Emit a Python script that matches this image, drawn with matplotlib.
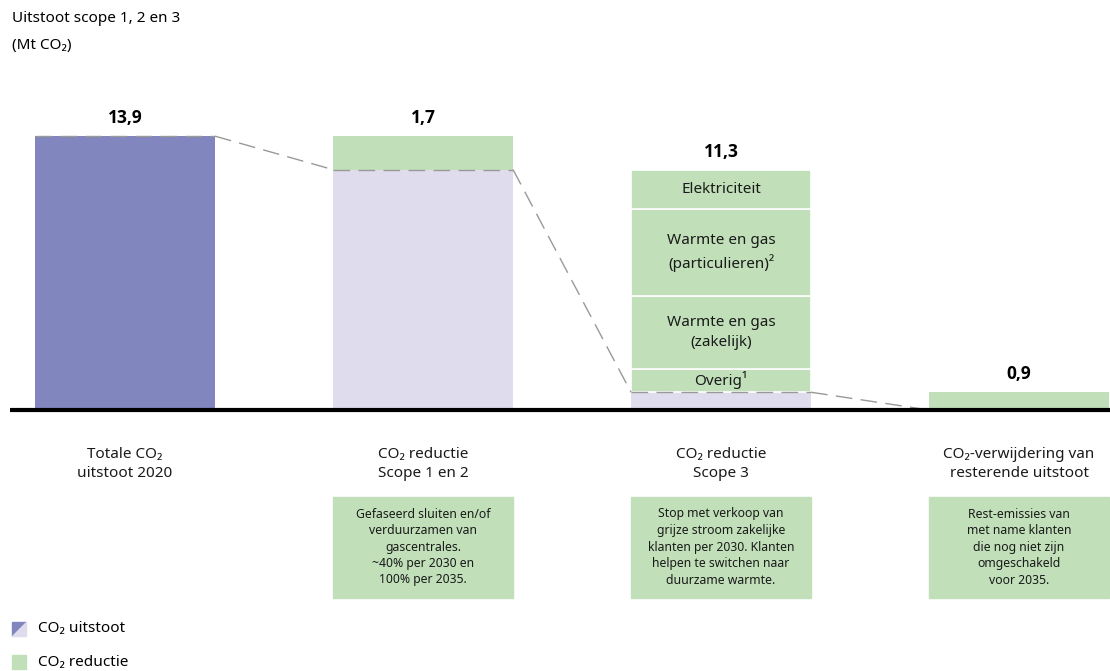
import matplotlib
matplotlib.use("Agg")
import matplotlib.pyplot as plt
from matplotlib.patches import Polygon, Rectangle

plt.rcParams['font.family'] = ['Noto Sans', 'DejaVu Sans']

# data
categories = ["Totale CO₂\nuitstoot 2020", "CO₂ reductie\nScope 1 en 2",
              "CO₂ reductie\nScope 3", "CO₂-verwijdering van\nresterende uitstoot"]
totaal_2020 = 13.9
reductie_scope12 = 1.7
scope3_labels = ["Overig¹", "Warmte en gas\n(zakelijk)",
                 "Warmte en gas\n(particulieren)²", "Elektriciteit"]
scope3_values = [1.2, 3.7, 4.4, 2.0]
reductie_scope3 = 11.3
verwijdering = 0.9
value_labels = ["13,9", "1,7", "11,3", "0,9"]
box_texts = [None,
             "Gefaseerd sluiten en/of\nverduurzamen van\ngascentrales.\n~40% per 2030 en\n100% per 2035.",
             "Stop met verkoop van\ngrijze stroom zakelijke\nklanten per 2030. Klanten\nhelpen te switchen naar\nduurzame warmte.",
             "Rest-emissies van\nmet name klanten\ndie nog niet zijn\nomgeschakeld\nvoor 2035."]

c_dark = '#8186bf'
c_light = '#dfdded'
c_green = '#c1e0b9'
c_dash = '#999999'

W, H = 1110, 671
fig = plt.figure(figsize=(W / 100, H / 100), dpi=100)
ax = fig.add_axes([10 / W, 1 - 410 / H, 1100 / W, 310 / H])
ax.set_xlim(-0.386, 3.305)
ax.set_ylim(0, 310 / 19.7)
ax.axis('off')

bw = 0.604
x = [0, 1, 2, 3]
rest12 = totaal_2020 - reductie_scope12
rest3 = rest12 - reductie_scope3

# bars
ax.bar(x[0], totaal_2020, bw, color=c_dark)
ax.bar(x[1], rest12, bw, color=c_light)
ax.bar(x[1], reductie_scope12, bw, bottom=rest12, color=c_green)
ax.bar(x[2], rest3, bw, color=c_light)
bottom = rest3
for lab, v in zip(scope3_labels, scope3_values):
    ax.bar(x[2], v, bw, bottom=bottom, color=c_green, edgecolor='white', linewidth=1.2)
    ax.text(x[2], bottom + v / 2, lab, ha='center', va='center', fontsize=11,
            linespacing=1.45, color='#1a1a1a')
    bottom += v
ax.bar(x[3], verwijdering, bw, color=c_green)

# dashed connectors
levels = [totaal_2020, rest12, rest3, rest3 - verwijdering]
dash = dict(color=c_dash, lw=1, dashes=(12, 6))
for i in range(4):
    ax.plot([x[i] - bw / 2, x[i] + bw / 2], [levels[i]] * 2, **dash)
    if i < 3:
        ax.plot([x[i] + bw / 2, x[i + 1] - bw / 2], [levels[i], levels[i + 1]], **dash)

# value labels
tops = [totaal_2020, totaal_2020, rest12, verwijdering]
for xi, t, lab in zip(x, tops, value_labels):
    ax.annotate(lab, (xi, t), xytext=(0, 13), textcoords='offset points',
                ha='center', va='center', fontsize=12.5, fontweight='bold',
                family=['Open Sans', 'DejaVu Sans'])

# baseline
ax.plot([-0.386, 3.305], [0, 0], color='black', lw=3, solid_capstyle='butt', clip_on=False)

# category labels
for xi, cat in zip(x, categories):
    ax.text(xi, -54 / 19.7, cat, ha='center', va='center', fontsize=11,
            linespacing=1.45, color='#1a1a1a')

# text boxes below
for xi, txt in zip(x, box_texts):
    if txt is None:
        continue
    left_px = 125 + xi * 298 - 90
    fig.patches.append(Rectangle((left_px / W, 1 - 598 / H), 180 / W, 101 / H,
                                 transform=fig.transFigure, color=c_green))
    fig.text((left_px + 90) / W, 1 - 547 / H, txt, ha='center', va='center',
             fontsize=8.8, linespacing=1.35, color='#1a1a1a')

# title
fig.text(12 / W, 1 - 18 / H, "Uitstoot scope 1, 2 en 3", fontsize=11, va='center')
fig.text(12 / W, 1 - 45 / H, "(Mt CO₂)", fontsize=11, va='center')

# legend
sq = 14
x0, y0 = 12, 636
fig.patches.append(Polygon([(x0 / W, 1 - y0 / H), (x0 / W, 1 - (y0 - sq) / H),
                            ((x0 + sq) / W, 1 - (y0 - sq) / H)],
                           closed=True, transform=fig.transFigure, color=c_dark))
fig.patches.append(Polygon([(x0 / W, 1 - y0 / H), ((x0 + sq) / W, 1 - y0 / H),
                            ((x0 + sq) / W, 1 - (y0 - sq) / H)],
                           closed=True, transform=fig.transFigure, color=c_light))
fig.text(38 / W, 1 - 629 / H, "CO₂ uitstoot", fontsize=11, va='center')
fig.patches.append(Rectangle((x0 / W, 1 - 669 / H), sq / W, sq / H,
                             transform=fig.transFigure, color=c_green))
fig.text(38 / W, 1 - 662 / H, "CO₂ reductie", fontsize=11, va='center')

fig.savefig("out.png", dpi=100)
